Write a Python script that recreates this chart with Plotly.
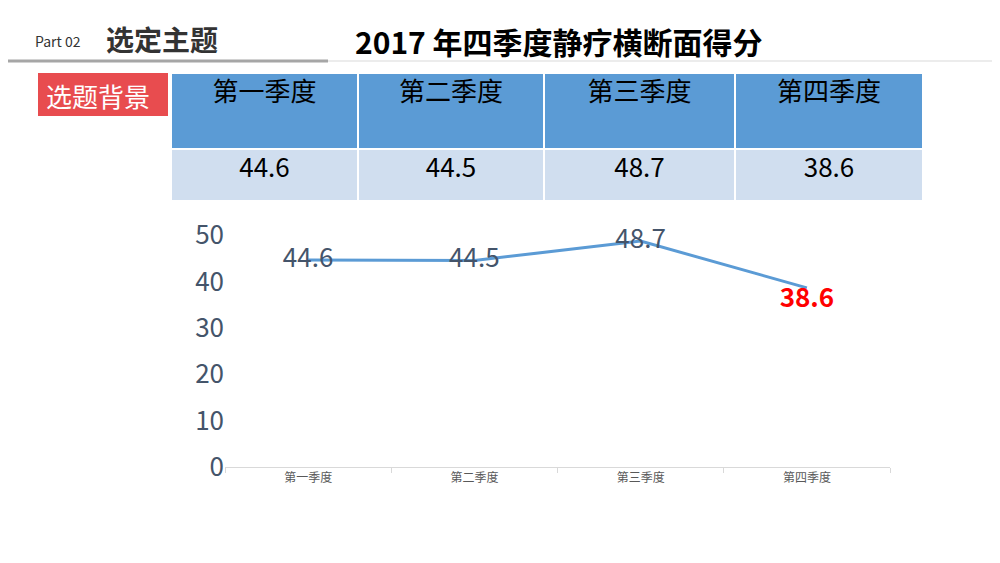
import plotly.graph_objects as go

quarters = ["第一季度", "第二季度", "第三季度", "第四季度"]
scores = [44.6, 44.5, 48.7, 38.6]
label_colors = ["#44546a", "#44546a", "#44546a", "#ff0000"]

W, H = 1000, 563
px_x = lambda v: v / W
px_y = lambda v: 1 - v / H
font = "Noto Sans CJK SC"

fig = go.Figure()

# table on top
fig.add_trace(go.Table(
    domain=dict(x=[px_x(163), px_x(915)], y=[px_y(196), px_y(65)]),
    columnwidth=[187, 186, 191, 188],
    header=dict(values=quarters, fill_color="#5b9bd5", height=76,
                line=dict(color="white", width=2),
                font=dict(family=font, size=26, color="black"), align="center"),
    cells=dict(values=[[f"{v}"] for v in scores], fill_color="#d0deef", height=52,
               line=dict(color="white", width=2),
               font=dict(family=font, size=26, color="black"), align="center"),
))

# line chart
fig.add_trace(go.Scatter(
    x=quarters, y=scores, mode="lines+text", cliponaxis=False,
    line=dict(color="#5b9bd5", width=3),
    text=[str(v) for v in scores],
    texttemplate=["%{text}", "%{text}", "%{text}", "<b>%{text}</b>"],
    textposition=["middle center", "middle center", "middle center", "bottom center"],
    textfont=dict(family=font, size=26, color=label_colors),
    showlegend=False, hoverinfo="skip",
))

fig.update_layout(
    width=W, height=H, margin=dict(l=0, r=0, t=0, b=0, autoexpand=False),
    paper_bgcolor="white", plot_bgcolor="white", showlegend=False,
    xaxis=dict(domain=[px_x(217), px_x(882)], range=[-0.5, 3.5], automargin=False,
               showgrid=False, showline=True,
               linecolor="#d9d9d9", ticks="outside", tickcolor="#d9d9d9",
               tickson="boundaries", ticklen=5,
               tickfont=dict(family=font, size=12, color="#595959")),
    yaxis=dict(domain=[px_y(459), px_y(227)], range=[0, 50], dtick=10, automargin=False,
               showgrid=False, zeroline=False,
               tickfont=dict(family=font, size=26, color="#44546a")),
)

anns = [
    dict(x=px_x(25), y=px_y(33), text="Part 02", font=dict(family=font, size=14, color="#333")),
    dict(x=px_x(96), y=px_y(31), text="<b>选定主题</b>", font=dict(family=font, size=28, color="#333")),
    dict(x=px_x(345), y=px_y(33), text="<b>2017 年四季度静疗横断面得分</b>", font=dict(family=font, size=30, color="black")),
    dict(x=px_x(36), y=px_y(87), text="选题背景", font=dict(family=font, size=26, color="white")),
]
for a in anns:
    fig.add_annotation(xref="paper", yref="paper", xanchor="left", yanchor="middle",
                       showarrow=False, **a)

fig.add_shape(type="line", xref="paper", yref="paper", x0=0, x1=1,
              y0=px_y(53), y1=px_y(53), line=dict(color="#d9d9d9", width=1))
fig.add_shape(type="line", xref="paper", yref="paper", x0=0, x1=px_x(320),
              y0=px_y(53), y1=px_y(53), line=dict(color="#a6a6a6", width=3))
fig.add_shape(type="rect", xref="paper", yref="paper", x0=px_x(30), x1=px_x(160),
              y0=px_y(108), y1=px_y(65), fillcolor="#e84c4f", line=dict(width=0),
              layer="below")

fig.write_html("out.html")
